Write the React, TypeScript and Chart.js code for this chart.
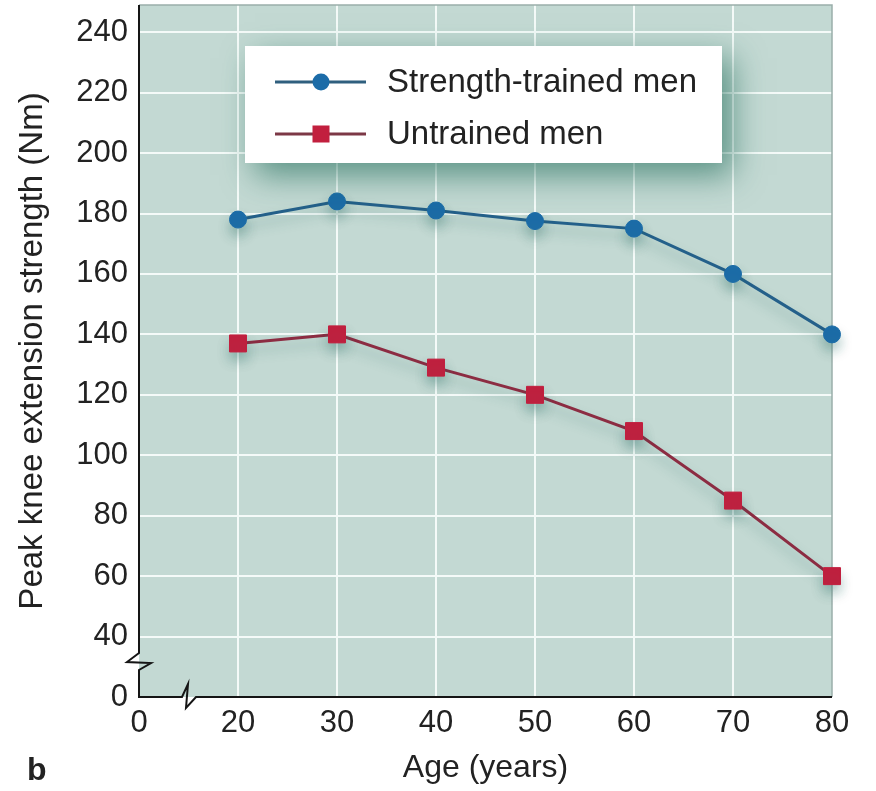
import React, { useEffect, useRef } from "react";
import { Chart, registerables } from "chart.js";

Chart.register(...registerables);

// ---- data ----
const ages = [20, 30, 40, 50, 60, 70, 80];
const trainedMen = [178, 184, 181, 177.5, 175, 160, 140];
const untrainedMen = [137, 140, 129, 120, 108, 85, 60];
const seriesLabels = ["Strength-trained men", "Untrained men"];
// broken axes: the first tick of each axis stands for 0
const yTickValues = [20, 40, 60, 80, 100, 120, 140, 160, 180, 200, 220, 240];
const yTickLabels = ["0", "40", "60", "80", "100", "120", "140", "160", "180", "200", "220", "240"];
const xTickValues = [10, 20, 30, 40, 50, 60, 70, 80];
const xTickLabels = ["0", "20", "30", "40", "50", "60", "70", "80"];
const xTitle = "Age (years)";
const yTitle = "Peak knee extension strength (Nm)";
const panelLabel = "b";

const FONT = "'Liberation Sans', Arial, Helvetica, sans-serif";
const TEXT = "#222222";
const PLOT_BG = "#c3d9d3";
const BLUE_LINE = "#24608a";
const BLUE_PT = "#1c6ca8";
const RED_LINE = "#8c2c42";
const RED_PT = "#c21f3e";

const noPadding = () => ({ left: 0, top: 0, right: 0, bottom: 0 });

const decorPlugin = {
  id: "decor",
  beforeDraw(chart: any) {
    const { ctx, chartArea: a } = chart;
    ctx.save();
    ctx.fillStyle = PLOT_BG;
    ctx.fillRect(a.left, a.top, a.right - a.left, a.bottom - a.top);
    ctx.restore();
  },
  beforeDatasetsDraw(chart: any) {
    const { ctx, chartArea: a } = chart;
    const L = a.left, B = a.bottom, T = a.top, R = a.right;
    ctx.save();
    // light frame on top / right
    ctx.strokeStyle = "#9aaeaa";
    ctx.lineWidth = 1.5;
    ctx.beginPath();
    ctx.moveTo(L, T);
    ctx.lineTo(R, T);
    ctx.lineTo(R, B);
    ctx.stroke();
    // axes with break marks
    ctx.strokeStyle = "#151515";
    ctx.lineWidth = 2;
    ctx.lineJoin = "miter";
    ctx.beginPath();
    ctx.moveTo(L, T);
    ctx.lineTo(L, B - 44);
    ctx.lineTo(L - 12, B - 35);
    ctx.lineTo(L + 12, B - 34);
    ctx.lineTo(L, B - 27);
    ctx.lineTo(L, B);
    ctx.lineTo(L + 43, B);
    ctx.lineTo(L + 49, B - 13);
    ctx.lineTo(L + 47, B + 11);
    ctx.lineTo(L + 57, B);
    ctx.lineTo(R, B);
    ctx.stroke();
    ctx.restore();
    // soft shadow for the data lines
    ctx.save();
    ctx.shadowColor = "rgba(40, 110, 100, 0.35)";
    ctx.shadowBlur = 12;
    ctx.shadowOffsetY = 8;
  },
  afterDatasetsDraw(chart: any) {
    const { ctx } = chart;
    ctx.restore();
    // legend box
    const bx = 245, by = 46, bw = 477, bh = 117;
    ctx.save();
    ctx.shadowColor = "rgba(20, 100, 80, 0.6)";
    ctx.shadowBlur = 30;
    ctx.shadowOffsetX = 10;
    ctx.shadowOffsetY = 12;
    ctx.fillStyle = "#ffffff";
    ctx.fillRect(bx, by, bw, bh);
    ctx.restore();
    const rows = [
      { y: 82, line: "#2f5f7e", pt: BLUE_PT, shape: "circle" },
      { y: 134, line: "#7c3846", pt: RED_PT, shape: "rect" },
    ];
    ctx.save();
    rows.forEach((r, i) => {
      ctx.strokeStyle = r.line;
      ctx.lineWidth = 3;
      ctx.beginPath();
      ctx.moveTo(275, r.y);
      ctx.lineTo(366, r.y);
      ctx.stroke();
      ctx.fillStyle = r.pt;
      if (r.shape === "circle") {
        ctx.beginPath();
        ctx.arc(321, r.y, 8.5, 0, Math.PI * 2);
        ctx.fill();
      } else {
        ctx.fillRect(321 - 8.5, r.y - 8.5, 17, 17);
      }
      ctx.fillStyle = TEXT;
      ctx.font = `33px ${FONT}`;
      ctx.textBaseline = "middle";
      ctx.textAlign = "left";
      ctx.fillText(chart.data.datasets[i].label, 387, r.y + 1);
    });
    ctx.restore();
  },
  afterDraw(chart: any) {
    const { ctx } = chart;
    ctx.save();
    ctx.fillStyle = TEXT;
    ctx.font = `bold 32px ${FONT}`;
    ctx.textBaseline = "alphabetic";
    ctx.textAlign = "left";
    ctx.fillText(panelLabel, 27, 780);
    ctx.restore();
  },
};

export default function App() {
  const ref = useRef<HTMLCanvasElement | null>(null);

  useEffect(() => {
    if (!ref.current) return;
    const chart = new Chart(ref.current, {
      type: "line",
      data: {
        datasets: [
          {
            label: seriesLabels[0],
            data: ages.map((a, i) => ({ x: a, y: trainedMen[i] })),
            borderColor: BLUE_LINE,
            borderWidth: 3,
            pointStyle: "circle",
            pointRadius: 8.5,
            pointBackgroundColor: BLUE_PT,
            pointBorderColor: BLUE_PT,
            pointBorderWidth: 1,
            tension: 0,
            clip: false,
          },
          {
            label: seriesLabels[1],
            data: ages.map((a, i) => ({ x: a, y: untrainedMen[i] })),
            borderColor: RED_LINE,
            borderWidth: 3,
            pointStyle: "rect",
            pointRadius: 12,
            pointBackgroundColor: RED_PT,
            pointBorderColor: RED_PT,
            pointBorderWidth: 1,
            tension: 0,
            clip: false,
          },
        ],
      },
      options: {
        responsive: false,
        animation: false,
        devicePixelRatio: 1,
        events: [],
        layout: { autoPadding: false, padding: { top: 5, right: 44, bottom: 0, left: 0 } },
        plugins: { legend: { display: false }, tooltip: { enabled: false } },
        scales: {
          x: {
            type: "linear",
            min: 10,
            max: 80,
            afterBuildTicks: (s: any) => {
              s.ticks = xTickValues.map((v) => ({ value: v }));
            },
            afterFit: (s: any) => {
              s.height = 94;
              s.paddingLeft = 0;
              s.paddingRight = 0;
              s.paddingTop = 0;
              s.paddingBottom = 0;
              s.getPadding = noPadding;
            },
            border: { display: false },
            grid: {
              drawTicks: false,
              lineWidth: 2,
              color: (c: any) =>
                c.tick && (c.tick.value === 10 || c.tick.value === 80) ? "rgba(0,0,0,0)" : "#f4faf8",
            },
            ticks: {
              autoSkip: false,
              maxRotation: 0,
              padding: 8,
              color: TEXT,
              font: { family: FONT, size: 31 },
              callback: (v: any) => {
                const i = xTickValues.indexOf(Number(v));
                return i >= 0 ? xTickLabels[i] : "";
              },
            },
            title: {
              display: true,
              text: xTitle,
              color: TEXT,
              font: { family: FONT, size: 32 },
              padding: { top: 0, bottom: 4 },
            },
          },
          y: {
            type: "linear",
            min: 20,
            max: 249,
            afterBuildTicks: (s: any) => {
              s.ticks = yTickValues.map((v) => ({ value: v }));
            },
            afterFit: (s: any) => {
              s.width = 139;
              s.paddingLeft = 0;
              s.paddingRight = 0;
              s.paddingTop = 0;
              s.paddingBottom = 0;
              s.getPadding = noPadding;
            },
            border: { display: false },
            grid: {
              drawTicks: false,
              lineWidth: 2,
              color: (c: any) => (c.tick && c.tick.value === 20 ? "rgba(0,0,0,0)" : "#f4faf8"),
            },
            ticks: {
              autoSkip: false,
              padding: 11,
              color: TEXT,
              font: { family: FONT, size: 31 },
              callback: (v: any) => {
                const i = yTickValues.indexOf(Number(v));
                return i >= 0 ? yTickLabels[i] : "";
              },
            },
            title: {
              display: true,
              text: yTitle,
              color: TEXT,
              font: { family: FONT, size: 33 },
              padding: { top: 13, bottom: 0 },
            },
          },
        },
      },
      plugins: [decorPlugin],
    } as any);
    return () => chart.destroy();
  }, []);

  return (
    <div style={{ position: "absolute", left: 0, top: 0, width: 876, height: 791, background: "#ffffff" }}>
      <canvas ref={ref} width={876} height={791} style={{ display: "block", width: 876, height: 791 }} />
    </div>
  );
}
